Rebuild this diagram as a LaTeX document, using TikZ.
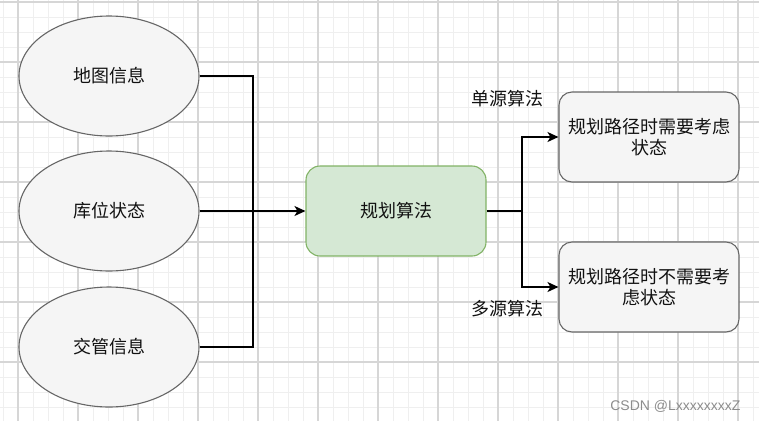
\documentclass[tikz,border=0pt]{standalone}
\usepackage{fontspec}
\setmainfont{Noto Sans CJK SC}
\newfontfamily\wmfont{Liberation Sans}
\usepackage{tikz}
\usetikzlibrary{shapes.geometric,arrows.meta,positioning,calc}

\definecolor{gridmajor}{HTML}{D6D6D6}
\definecolor{gridminor}{HTML}{EFEFEF}
\definecolor{boxline}{HTML}{666666}
\definecolor{boxfill}{HTML}{F5F5F5}
\definecolor{algoline}{HTML}{82B366}
\definecolor{algofill}{HTML}{D5E8D4}
\definecolor{txt}{HTML}{111111}

\begin{document}
\begin{tikzpicture}[
  x=1pt, y=-1pt,
  >={Stealth[length=11pt,width=10pt,inset=3pt]},
  src/.style={
    ellipse, draw=boxline, fill=boxfill, line width=1.1pt,
    minimum width=180pt, minimum height=120pt, inner sep=0pt,
    font=\fontsize{18}{22}\selectfont, text=txt
  },
  algo/.style={
    rectangle, draw=algoline, fill=algofill, line width=1.1pt,
    rounded corners=14pt, minimum width=180pt, minimum height=90pt,
    font=\fontsize{18}{22}\selectfont, text=txt
  },
  res/.style={
    rectangle, draw=boxline, fill=boxfill, line width=1.1pt,
    rounded corners=13pt, minimum width=180pt, minimum height=90pt,
    align=center, font=\fontsize{18}{21.5}\selectfont, text=txt
  },
  lbl/.style={font=\fontsize{18}{22}\selectfont, text=txt},
  link/.style={line width=1.6pt, draw=black}
]

% Hintergrund und Raster
\useasboundingbox (0,0) rectangle (759,421);
\fill[white] (0,0) rectangle (759,421);
\foreach \gx in {3,18,...,759} \draw[gridminor, line width=1pt] (\gx,0) -- (\gx,421);
\foreach \gy in {2,17,...,421} \draw[gridminor, line width=1pt] (0,\gy) -- (759,\gy);
\foreach \gx in {18,78,...,759} \draw[gridmajor, line width=1.2pt] (\gx,0) -- (\gx,421);
\foreach \gy in {2,62,...,421} \draw[gridmajor, line width=1.2pt] (0,\gy) -- (759,\gy);

% -- Eingaben --
\node[src] (map)     at (109, 76)  {地图信息};
\node[src] (slot)    at (109, 211) {库位状态};
\node[src] (traffic) at (109, 347) {交管信息};

% -- Algorithmus --
\node[algo] (plan) at (396, 211) {规划算法};

% -- Ergebnisse --
\node[res] (single) at (649, 137) {规划路径时需要考虑\\状态};
\node[res] (multi)  at (649, 287) {规划路径时不需要考\\虑状态};

\node[lbl] (lblsingle) at (507, 99)  {单源算法};
\node[lbl] (lblmulti)  at (507, 309) {多源算法};

% -- Verbindungen --
\coordinate (injoin)  at (253, 211);
\coordinate (outjoin) at (522, 211);
\draw[link] (map.east) -| (injoin);
\draw[link] (traffic.east) -| (injoin);
\draw[link, ->] (slot.east) -- (plan.west);
\draw[link] (plan.east) -- (outjoin);
\draw[link, ->] (outjoin) |- (single.west);
\draw[link, ->] (outjoin) |- (multi.west);

% Wasserzeichen
\node[font=\wmfont\fontsize{14}{16}\selectfont, text=black!45, anchor=east] (mark) at (744, 406) {CSDN @LxxxxxxxxZ};

\end{tikzpicture}
\end{document}
